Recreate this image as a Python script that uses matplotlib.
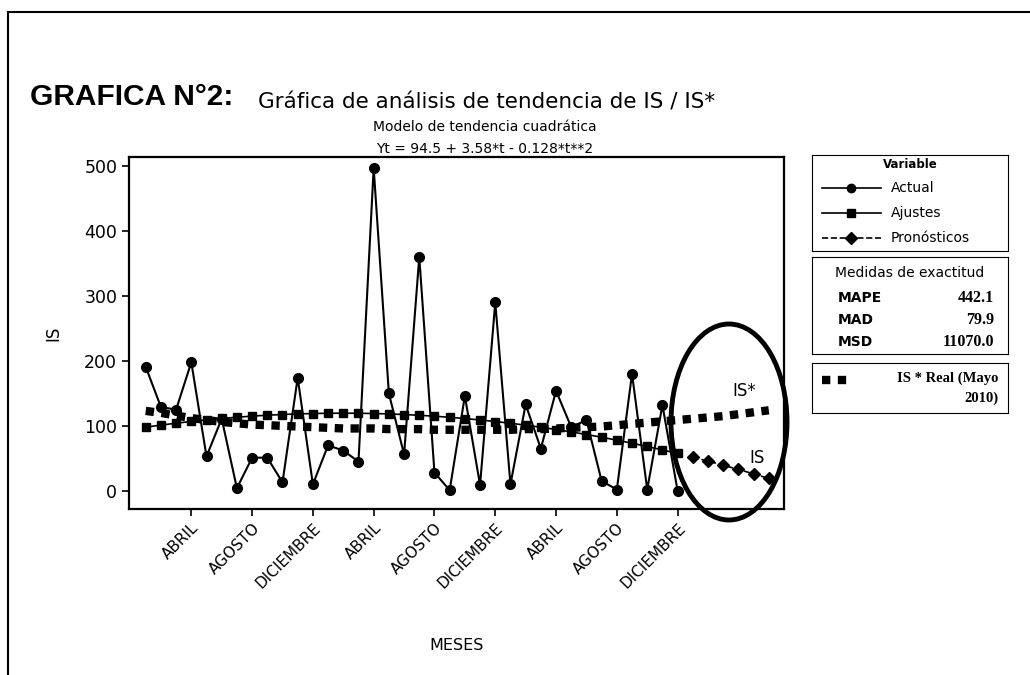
import matplotlib
matplotlib.use("Agg")
import matplotlib.pyplot as plt
from matplotlib.patches import Ellipse
from matplotlib.lines import Line2D

plt.rcParams['font.family'] = ['DejaVu Sans']

# datos (t = mes 1..36, pronosticos 37..42)
t_actual = list(range(1, 37))
actual = [191, 129, 125, 198, 53, 111, 4, 51, 51, 13, 174, 10,
          70, 62, 45, 497, 150, 56, 360, 28, 1, 146, 9, 290,
          10, 133, 65, 154, 98, 109, 15, 2, 180, 2, 132, 0]
ajustes = [98.0, 101.2, 104.1, 106.8, 109.2, 111.4, 113.3, 115.0, 116.4, 117.5, 118.4, 119.0,
           119.4, 119.5, 119.4, 119.0, 118.4, 117.5, 116.3, 114.9, 113.2, 111.3, 109.1, 106.7,
           104.0, 101.1, 97.9, 94.4, 90.7, 86.7, 82.5, 78.0, 73.3, 68.3, 63.0, 57.5]
t_pron = [37, 38, 39, 40, 41, 42]
pronosticos = [51.7, 45.7, 39.4, 32.9, 26.1, 19.1]
t_real = list(range(1, 43))
is_real = [123, 120, 116, 112, 109, 106, 104, 102, 101, 100, 99, 98,
           97, 96, 96, 96, 95, 95, 95, 94, 94, 94, 94, 94,
           94, 95, 95, 96, 97, 98, 99, 101, 103, 105, 107, 109,
           111, 113, 115, 118, 121, 124]
ticks_t = [4, 8, 12, 16, 20, 24, 28, 32, 36]
ticks_txt = ['ABRIL', 'AGOSTO', 'DICIEMBRE'] * 3
medidas = [('MAPE', '442.1'), ('MAD', '79.9'), ('MSD', '11070.0')]

W, H = 1030, 675
fig = plt.figure(figsize=(W / 100, H / 100), dpi=100)


def caja(x0, y0, x1, y1):
    # ejes en coordenadas de pixel (origen arriba a la izquierda)
    return fig.add_axes([x0 / W, 1 - y1 / H, (x1 - x0) / W, (y1 - y0) / H])


ax = caja(129, 157, 784, 509)
ax.plot(t_real, is_real, color='black', lw=6, dashes=(1, 0.9), solid_capstyle='butt')
ax.plot(t_actual, ajustes, color='black', lw=1.2, marker='s', ms=6)
ax.plot(t_pron, pronosticos, color='black', lw=1.2, ls='--', marker='D', ms=6)
ax.plot(t_actual, actual, color='black', lw=1.5, marker='o', ms=7)
ax.set_xlim(-0.1, 43)
ax.set_ylim(-28, 514)
ax.set_yticks([0, 100, 200, 300, 400, 500])
ax.set_xticks(ticks_t)
ax.set_xticklabels(ticks_txt, rotation=45, ha='right', rotation_mode='anchor', fontsize=11)
ax.tick_params(axis='y', labelsize=12.5, length=5, width=1.2)
ax.tick_params(axis='x', length=5, width=1.2, pad=3)
for s in ax.spines.values():
    s.set_linewidth(1.6)
ax.set_ylabel('IS', fontsize=12, labelpad=16)
ax.set_xlabel('MESES', fontsize=11.5, labelpad=34)

ax.text(40.4, 153, 'IS*', fontsize=12, ha='center', va='center')
ax.text(41.2, 50, 'IS', fontsize=12, ha='center', va='center')

# ovalo dibujado a mano sobre el pronostico
fig.patches.append(Ellipse((729 / W, 1 - 422 / H), 116 / W, 196 / H, transform=fig.transFigure,
                           fill=False, lw=3.5, ec='black'))

# titulos
fig.text(30 / W, 1 - 97 / H, 'GRAFICA N°2:', fontsize=21.5, fontweight='bold',
         family='Liberation Sans', va='center')
fig.text(258 / W, 1 - 103 / H, 'Gráfica de análisis de tendencia de IS / IS*', fontsize=15.5, va='center')
fig.text(485 / W, 1 - 127 / H, 'Modelo de tendencia cuadrática', fontsize=10, ha='center', va='center')
fig.text(485 / W, 1 - 149 / H, 'Yt = 94.5 + 3.58*t - 0.128*t**2', fontsize=10, ha='center', va='center')

# marco exterior
fig.lines.append(Line2D([8 / W, 1], [1 - 12 / H, 1 - 12 / H], transform=fig.transFigure, color='black', lw=1.5))
fig.lines.append(Line2D([8 / W, 8 / W], [0, 1 - 12 / H], transform=fig.transFigure, color='black', lw=1.5))

# leyenda: variable
l1 = caja(812, 155, 1008, 251)
l1.set_xticks([])
l1.set_yticks([])
l1.set_xlim(0, 1)
l1.set_ylim(0, 1)
l1.text(0.5, 0.9, 'Variable', fontsize=8.5, fontweight='bold', ha='center', va='center')
filas = [('Actual', '-', 'o'), ('Ajustes', '-', 's'), ('Pronósticos', '--', 'D')]
for i, (nombre, estilo, marca) in enumerate(filas):
    yy = 0.66 - i * 0.26
    l1.plot([0.05, 0.35], [yy, yy], color='black', lw=1.2, ls=estilo)
    l1.plot([0.2], [yy], color='black', marker=marca, ms=6)
    l1.text(0.4, yy, nombre, fontsize=10, va='center')

# leyenda: medidas de exactitud
l2 = caja(812, 257, 1008, 354)
l2.set_xticks([])
l2.set_yticks([])
l2.set_xlim(0, 1)
l2.set_ylim(0, 1)
l2.text(0.5, 0.83, 'Medidas de exactitud', fontsize=10, ha='center', va='center')
for i, (nombre, valor) in enumerate(medidas):
    yy = 0.58 - i * 0.23
    l2.text(0.13, yy, nombre, fontsize=10, fontweight='bold', va='center')
    l2.text(0.93, yy, valor, fontsize=11.5, fontweight='bold', family='Liberation Serif',
            ha='right', va='center')

# leyenda: IS* real
l3 = caja(812, 363, 1008, 413)
l3.set_xticks([])
l3.set_yticks([])
l3.set_xlim(0, 1)
l3.set_ylim(0, 1)
l3.plot([0.05, 0.2], [0.66, 0.66], color='black', lw=6, dashes=(1, 0.9), solid_capstyle='butt')
l3.text(0.95, 0.7, 'IS * Real (Mayo', fontsize=10.5, fontweight='bold', family='Liberation Serif',
        ha='right', va='center')
l3.text(0.95, 0.3, '2010)', fontsize=10.5, fontweight='bold', family='Liberation Serif',
        ha='right', va='center')

plt.savefig('out.png', dpi=100)
